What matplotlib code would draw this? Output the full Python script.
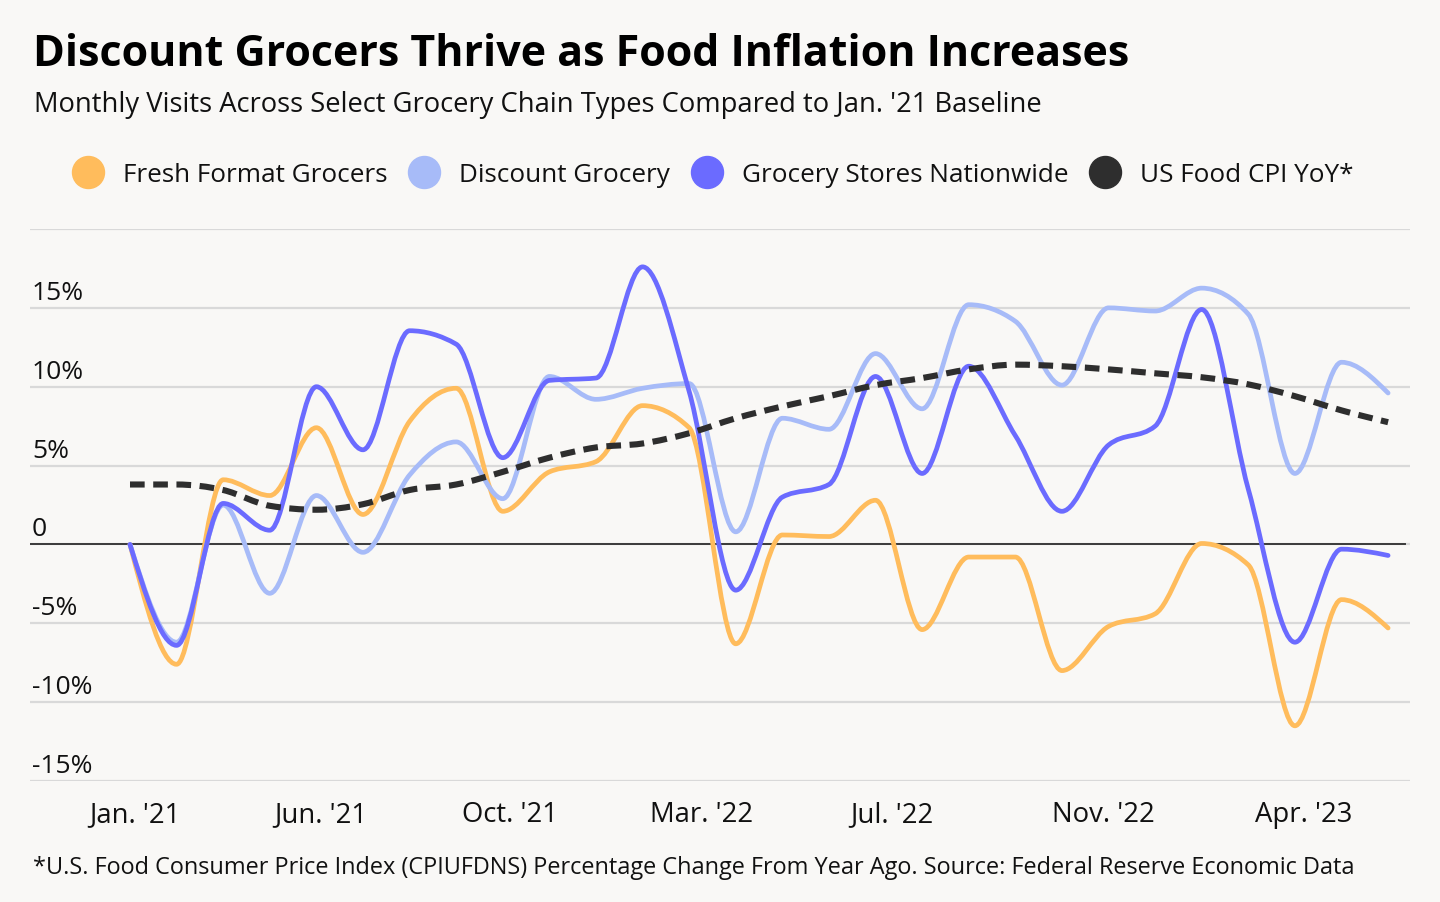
import numpy as np
import matplotlib
matplotlib.use("Agg")
import matplotlib.pyplot as plt
from matplotlib.path import Path
from matplotlib.patches import PathPatch
import matplotlib.transforms as mtransforms

plt.rcParams["font.family"] = ["Open Sans", "DejaVu Sans"]

# monthly index 0..27
FRESH = [0, -7.6, 4.1, 3.1, 7.4, 1.9, 7.8, 9.9, 2.1, 4.6, 5.25, 8.8, 7.4, -6.3,
         0.6, 0.5, 2.8, -5.4, -0.8, -0.8, -8.0, -5.2, -4.4, 0.06, -1.3, -11.5, -3.5, -5.3]
DISCOUNT = [0, -6.2, 2.5, -3.1, 3.1, -0.5, 4.4, 6.5, 2.9, 10.65, 9.2, 9.9, 10.2, 0.8,
            8.0, 7.3, 12.1, 8.6, 15.2, 14.15, 10.1, 15.0, 14.8, 16.25, 14.6, 4.5, 11.55, 9.6]
NATIONWIDE = [0, -6.4, 2.6, 0.9, 10.0, 6.0, 13.55, 12.7, 5.5, 10.4, 10.55, 17.6, 9.7, -2.9,
              3.0, 3.8, 10.65, 4.5, 11.3, 6.9, 2.1, 6.3, 7.5, 14.9, 3.5, -6.2, -0.3, -0.7]
CPI = [3.8, 3.8, 3.45, 2.45, 2.2, 2.55, 3.45, 3.8, 4.6, 5.5, 6.15, 6.4, 7.05, 8.0,
       8.75, 9.4, 10.1, 10.55, 11.1, 11.4, 11.3, 11.1, 10.85, 10.6, 10.15, 9.4, 8.5, 7.75]

TICK_POS = [0.11, 4.1, 8.15, 12.27, 16.35, 20.9, 25.19]
TICK_LABELS = ["Jan. '21", "Jun. '21", "Oct. '21", "Mar. '22", "Jul. '22", "Nov. '22", "Apr. '23"]
Y_TICKS = [-15, -10, -5, 0, 5, 10, 15, 20]
Y_LABELS = {15: "15%", 10: "10%", 5: "5%", 0: "0", -5: "-5%", -10: "-10%", -15: "-15%"}

SERIES = [
    ("Fresh Format Grocers", FRESH, "#FFBC5C"),
    ("Discount Grocery", DISCOUNT, "#A7BBF8"),
    ("Grocery Stores Nationwide", NATIONWIDE, "#6B6BFF"),
    ("US Food CPI YoY*", CPI, "#2E2E2E"),
]
BG = "#F9F8F6"


def monotone_path(y):
    # d3 curveMonotoneX drawn as cubic beziers
    y = np.asarray(y, dtype=float)
    x = np.arange(len(y), dtype=float)
    s = np.diff(y)
    t = np.zeros(len(y))
    for i in range(1, len(y) - 1):
        s0, s1 = s[i - 1], s[i]
        p = (s0 + s1) / 2
        t[i] = (np.sign(s0) + np.sign(s1)) * min(abs(s0), abs(s1), 0.5 * abs(p))
    t[0] = (3 * s[0] - t[1]) / 2
    t[-1] = (3 * s[-1] - t[-2]) / 2
    verts = [(x[0], y[0])]
    codes = [Path.MOVETO]
    for i in range(len(y) - 1):
        d = 1 / 3
        verts += [(x[i] + d, y[i] + d * t[i]), (x[i + 1] - d, y[i + 1] - d * t[i + 1]),
                  (x[i + 1], y[i + 1])]
        codes += [Path.CURVE4] * 3
    return Path(verts, codes)


W, H = 1440, 903
fig = plt.figure(figsize=(W / 100, H / 100), dpi=100, facecolor=BG)
ax = fig.add_axes([30 / W, 1 - 782 / H, 1380 / W, 552 / H], facecolor=BG)
ax.set_xlim(-2.146, 27.47)
ax.set_ylim(-15, 20)

ax.set_yticks(Y_TICKS)
ax.yaxis.grid(True, color="#D9D9D9", lw=1.6)
ax.tick_params(axis="y", length=0, labelleft=False)
ax.set_xticks(TICK_POS, TICK_LABELS)
ax.tick_params(axis="x", length=0, pad=14, labelsize=19.8, labelcolor="#111111")
for sp in ax.spines.values():
    sp.set_visible(False)
ax.set_axisbelow(True)
ax.axhline(0, xmin=0, xmax=1375 / 1380, color="#3A3A3A", lw=1.4, zorder=2)

blend = mtransforms.blended_transform_factory(ax.transAxes, ax.transData)
for v, lab in Y_LABELS.items():
    ax.annotate(lab, xy=(2 / 1380, v), xycoords=blend, xytext=(0, 6.5),
                textcoords="offset points", ha="left", va="baseline",
                fontsize=19, color="#111111")

for k, (name, vals, col) in enumerate(SERIES):
    if name.startswith("US Food"):
        patch = PathPatch(monotone_path(vals), fill=False, edgecolor=col, lw=4.4,
                          linestyle=(0, (2.4, 1.4)), capstyle="butt", zorder=5)
    else:
        patch = PathPatch(monotone_path(vals), fill=False, edgecolor=col, lw=3.4,
                          capstyle="round", joinstyle="round", zorder=3 + k * 0.1)
    ax.add_patch(patch)

# overlay for titles and legend (pixel coords)
ov = fig.add_axes([0, 0, 1, 1], facecolor="none")
ov.set_xlim(0, W)
ov.set_ylim(H, 0)
ov.axis("off")
ov.text(33, 66, "Discount Grocers Thrive as Food Inflation Increases", fontsize=30.95,
        fontweight="bold", color="#000000", va="baseline", ha="left")
ov.text(34, 112, "Monthly Visits Across Select Grocery Chain Types Compared to Jan. '21 Baseline",
        fontsize=19.7, color="#111111", va="baseline", ha="left")
leg_circle_x = [88, 424, 707, 1105]
for (name, vals, col), cx in zip(SERIES, leg_circle_x):
    ov.scatter([cx], [173], s=(32 * 0.72) ** 2, color=col, zorder=3)
    ov.text(cx + 35, 182, name, fontsize=18.8, color="#111111", va="baseline", ha="left")
ov.text(33, 874, "*U.S. Food Consumer Price Index (CPIUFDNS) Percentage Change From Year Ago. "
        "Source: Federal Reserve Economic Data", fontsize=16.9, color="#111111",
        va="baseline", ha="left")

fig.savefig("out.png", dpi=100, facecolor=BG)
